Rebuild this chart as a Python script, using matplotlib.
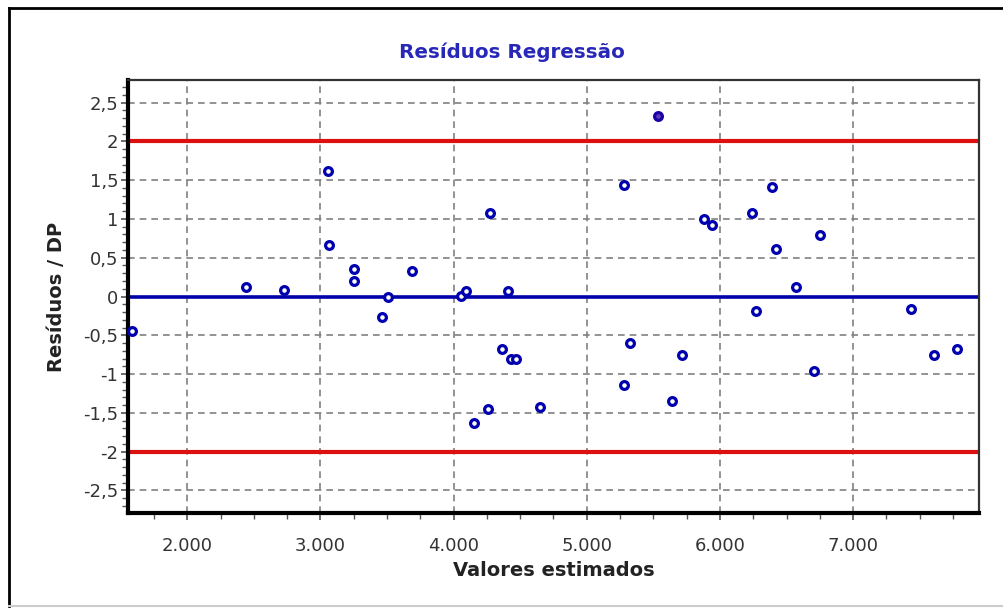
import matplotlib
matplotlib.use("Agg")
import matplotlib.pyplot as plt
from matplotlib.ticker import MultipleLocator, FuncFormatter
from matplotlib.lines import Line2D

# Data
valores_estimados = [1587, 2440, 2723, 3055, 3068, 3253, 3253, 3463, 3511, 3688,
                     4058, 4096, 4153, 4258, 4271, 4363, 4408, 4428, 4471, 4648,
                     5278, 5278, 5321, 5531, 5638, 5713, 5878, 5941, 6238, 6271,
                     6388, 6421, 6571, 6706, 6748, 7438, 7607, 7779]
residuos_dp = [-0.44, 0.12, 0.09, 1.62, 0.66, 0.35, 0.20, -0.27, -0.01, 0.33,
               0.01, 0.075, -1.63, -1.45, 1.08, -0.68, 0.075, -0.80, -0.80, -1.43,
               1.44, -1.14, -0.60, 2.32, -1.35, -0.75, 1.00, 0.92, 1.07, -0.19,
               1.41, 0.61, 0.12, -0.96, 0.79, -0.165, -0.76, -0.68]
limites = [2, -2]
x_ticks = [2000, 3000, 4000, 5000, 6000, 7000]
y_ticks = [-2.5, -2, -1.5, -1, -0.5, 0, 0.5, 1, 1.5, 2, 2.5]

plt.rcParams['font.family'] = ['DejaVu Sans']

fig = plt.figure(figsize=(10.04, 6.08), dpi=100)
fig.patch.set_facecolor('white')
ax = fig.add_axes([128/1004, 1-513/608, (979-128)/1004, (513-80)/608])

ax.set_xlim(1555, 7945)
ax.set_ylim(-2.79, 2.79)

ax.set_xticks(x_ticks)
ax.set_yticks(y_ticks)
ax.xaxis.set_minor_locator(MultipleLocator(250))
ax.yaxis.set_minor_locator(MultipleLocator(0.1))
ax.xaxis.set_major_formatter(FuncFormatter(lambda v, p: f"{int(round(v)):,}".replace(",", ".")))
ax.yaxis.set_major_formatter(FuncFormatter(lambda v, p: (f"{v:g}").replace(".", ",")))

ax.grid(True, which='major', color='#808080', linestyle=(0, (4, 3)), linewidth=1.2)
ax.set_axisbelow(True)

for lim in limites:
    ax.axhline(lim, color='#DD1010', linewidth=3, zorder=2)
ax.axhline(0, color='#0000AA', linewidth=2.6, zorder=2)

# points outside the limits are drawn filled
dentro_x = [x for x, y in zip(valores_estimados, residuos_dp) if abs(y) <= max(limites)]
dentro_y = [y for y in residuos_dp if abs(y) <= max(limites)]
fora_x = [x for x, y in zip(valores_estimados, residuos_dp) if abs(y) > max(limites)]
fora_y = [y for y in residuos_dp if abs(y) > max(limites)]

ax.plot(dentro_x, dentro_y, linestyle='none', marker='o', markersize=5.6,
        markeredgewidth=2.3, markeredgecolor='#0000B0', markerfacecolor='#FFFFF0',
        zorder=4, clip_on=False)
ax.plot(fora_x, fora_y, linestyle='none', marker='o', markersize=5.6,
        markeredgewidth=2.3, markeredgecolor='#1A00A8', markerfacecolor='#6040B0',
        zorder=4, clip_on=False)

for s in ['left', 'bottom']:
    ax.spines[s].set_linewidth(3)
    ax.spines[s].set_color('black')
for s in ['top', 'right']:
    ax.spines[s].set_linewidth(1.6)
    ax.spines[s].set_color('#333333')

ax.tick_params(axis='both', which='major', direction='out', length=5, width=1.2,
               color='#555555', labelsize=13, labelcolor='#333333')
ax.tick_params(axis='both', which='minor', direction='out', length=4, width=1,
               color='#555555')
ax.tick_params(axis='x', which='both', pad=12)
ax.tick_params(axis='y', which='both', pad=2)

ax.set_xlabel('Valores estimados', fontsize=14, fontweight='bold', color='#222222',
              va='center')
ax.set_ylabel('Resíduos / DP', fontsize=14, fontweight='bold', color='#222222',
              va='center')
ax.xaxis.set_label_coords(0.5, (513-570)/433)
ax.yaxis.set_label_coords((57-128)/851, 0.5)

fig.text(512/1004, 1-52/608, 'Resíduos Regressão', ha='center', va='center',
         fontsize=14.3, color='#2828B8', fontweight='bold')

# outer border
fig.add_artist(Line2D([9/1004, 9/1004], [1-8/608, 1-606/608], transform=fig.transFigure,
                      color='black', linewidth=2))
fig.add_artist(Line2D([9/1004, 1.0], [1-8/608, 1-8/608], transform=fig.transFigure,
                      color='black', linewidth=2))
fig.add_artist(Line2D([9/1004, 1.0], [1-606/608, 1-606/608], transform=fig.transFigure,
                      color='#CCCCCC', linewidth=1.5))

fig.savefig('out.png', dpi=100, facecolor='white')
